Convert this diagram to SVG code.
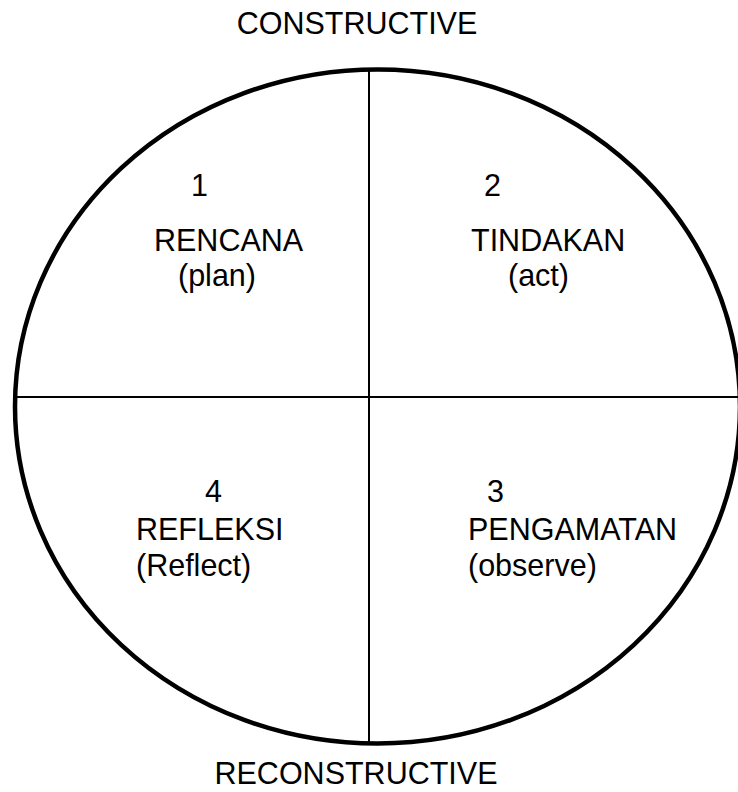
<svg xmlns="http://www.w3.org/2000/svg" width="738" height="792" viewBox="0 0 738 792">
<style>
.t{font-family:"Liberation Sans",Arial,sans-serif;font-size:30.5px;fill:#000}
.c{text-anchor:middle}
.ln{stroke:#000;stroke-width:2;fill:none}
</style>
<rect width="738" height="792" fill="#fff"/>
<g id="outline">
<ellipse cx="377.5" cy="406.5" rx="362.5" ry="337" fill="none" stroke="#000" stroke-width="4.5"/>
</g>
<g id="connectors">
<line class="ln" x1="369" y1="70" x2="369" y2="744"/>
<line class="ln" x1="16" y1="397" x2="738" y2="397"/>
</g>
<text class="t c" x="357" y="34">CONSTRUCTIVE</text>
<g id="q1">
<text class="t" x="191" y="196">1</text>
<text class="t" x="154" y="251">RENCANA</text>
<text class="t" x="178" y="286">(plan)</text>
</g>
<g id="q2">
<text class="t" x="484" y="196">2</text>
<text class="t" x="471" y="251">TINDAKAN</text>
<text class="t" x="508" y="286">(act)</text>
</g>
<g id="q4">
<text class="t" x="205" y="502">4</text>
<text class="t" x="136" y="540">REFLEKSI</text>
<text class="t" x="136" y="576">(Reflect)</text>
</g>
<g id="q3">
<text class="t" x="487" y="502">3</text>
<text class="t" x="468" y="540">PENGAMATAN</text>
<text class="t" x="468" y="576">(observe)</text>
</g>
<text class="t c" x="356" y="784">RECONSTRUCTIVE</text>
</svg>
